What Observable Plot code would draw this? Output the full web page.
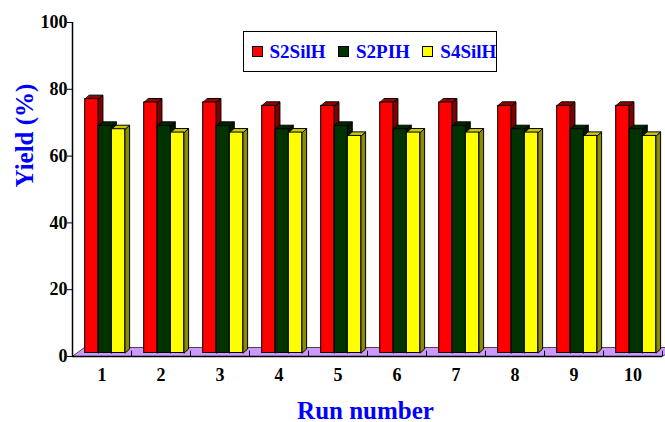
<!DOCTYPE html>
<html><head><meta charset="utf-8">
<script src="https://cdn.jsdelivr.net/npm/d3@7"></script>
<script src="https://cdn.jsdelivr.net/npm/@observablehq/plot@0.6"></script>
<style>
body{margin:0;background:#fff;}
#wrap{position:relative;width:665px;height:422px;overflow:hidden;}
#legend{position:absolute;left:243px;top:31px;width:254px;height:41px;box-sizing:border-box;border:1.5px solid #000;display:flex;align-items:center;padding-left:7.5px;font-family:"Liberation Serif",serif;font-weight:bold;font-size:19px;color:#0000ff;background:#fff;}
#legend .item{display:flex;align-items:center;margin-right:12.5px;}
#legend .sw{width:11px;height:11px;box-sizing:border-box;border:1.5px solid #000;margin-right:7px;}
</style></head><body><div id="wrap"><div id="legend"></div></div>
<script>
const runs = [1, 2, 3, 4, 5, 6, 7, 8, 9, 10];
const seriesNames = ["S2SilH", "S2PIH", "S4SilH"];
const s2SilH = [76, 75, 75, 74, 74, 75, 75, 74, 74, 74];
const s2PIH  = [68, 68, 68, 67, 68, 67, 68, 67, 67, 67];
const s4SilH = [67, 66, 66, 66, 65, 66, 66, 66, 65, 65];
const yTicks = [0, 20, 40, 60, 80, 100];

const frontColors = ["#ff0000", "#003300", "#ffff00"];
const topColors = ["#990000", "#002800", "#cccc00"];
const sideColors = ["#800000", "#001a00", "#8c8c00"];

const values = [s2SilH, s2PIH, s4SilH];
const xDomain = [runs[0] - 0.5, runs[runs.length - 1] + 0.5];
const barW = 0.226, offset0 = -0.285;
const depthX = 0.075, depthY = 1.2;
const floorDX = 0.212, floorDY = 2.7;
const lift = -3.5;

const bars = [];
runs.forEach((r, i) => values.forEach((vals, s) => {
  const x1 = r + offset0 + s * barW;
  bars.push({run: r, s, x1, x2: x1 + barW, v: vals[i]});
}));
const poly = (pts, k, s) => pts.map(([x, y]) => ({id: k, s, x, y}));
const tops = bars.flatMap((b, k) => poly([[b.x1, b.v], [b.x2, b.v], [b.x2 + depthX, b.v + depthY], [b.x1 + depthX, b.v + depthY]], k, b.s));
const sides = bars.flatMap((b, k) => poly([[b.x2, 0], [b.x2 + depthX, depthY], [b.x2 + depthX, b.v + depthY], [b.x2, b.v]], k, b.s));
const floorPts = poly([[xDomain[0], 0], [xDomain[1], 0], [xDomain[1] + floorDX, floorDY], [xDomain[0] + floorDX, floorDY]], 0, 0);
const boundaries = runs.map(r => r + 0.5);

const chart = Plot.plot({
  width: 665, height: 422,
  marginLeft: 72, marginRight: 3, marginTop: 22, marginBottom: 66,
  style: {fontFamily: "'Liberation Serif', serif", fontSize: "18px", fontWeight: "bold", color: "black", background: "white"},
  x: {domain: xDomain, ticks: runs, tickSize: 0, tickPadding: 12, tickFormat: d => String(d), label: null},
  y: {domain: [0, 100], ticks: yTicks, tickSize: 5, tickPadding: 0, tickFormat: d => String(d), label: null},
  color: {type: "identity"},
  marks: [
    Plot.line(floorPts, {x: "x", y: "y", z: "id", fill: "#cc99ff", stroke: "#444", strokeWidth: 1, curve: "linear-closed"}),
    Plot.ruleX(boundaries, {y1: 0, y2: 1.6, stroke: "black", strokeWidth: 1}),
    Plot.line(sides, {x: "x", y: "y", z: "id", fill: d => sideColors[d.s], stroke: "black", strokeWidth: 1, curve: "linear-closed", dy: lift}),
    Plot.line(tops, {x: "x", y: "y", z: "id", fill: d => topColors[d.s], stroke: "black", strokeWidth: 1, curve: "linear-closed", dy: lift}),
    Plot.rect(bars, {x1: "x1", x2: "x2", y1: 0, y2: "v", fill: d => frontColors[d.s], stroke: "black", strokeWidth: 1, dy: lift}),
    Plot.ruleX([xDomain[0]], {y1: 0, y2: 100, stroke: "black", strokeWidth: 1.5}),
    Plot.ruleY([0], {x1: xDomain[0], x2: xDomain[1], stroke: "black", strokeWidth: 1.5}),
    Plot.text(["Yield (%)"], {text: d => d, frameAnchor: "left", rotate: -90, dx: -48, dy: -2, fill: "#0000ff", fontSize: 25, fontWeight: "bold"}),
    Plot.text(["Run number"], {text: d => d, frameAnchor: "bottom", dy: 62, dx: -2, fill: "#0000ff", fontSize: 25, fontWeight: "bold"})
  ]
});
const wrap = document.getElementById("wrap");
wrap.insertBefore(chart, wrap.firstChild);

const legend = document.getElementById("legend");
seriesNames.forEach((name, s) => {
  const item = document.createElement("div");
  item.className = "item";
  const sw = document.createElement("div");
  sw.className = "sw";
  sw.style.background = frontColors[s];
  const t = document.createElement("span");
  t.textContent = name;
  item.appendChild(sw); item.appendChild(t);
  legend.appendChild(item);
});
</script></body></html>
